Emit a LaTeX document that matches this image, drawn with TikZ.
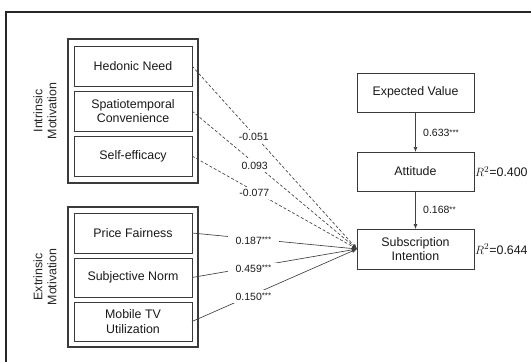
\documentclass[tikz,border=0pt]{standalone}
\usepackage{fontspec}
\setmainfont{Liberation Sans}
\usetikzlibrary{arrows.meta}
\definecolor{ln}{HTML}{404040}
\definecolor{bx}{HTML}{3A3A3A}
\newcommand{\stars}[1]{\raisebox{1.6pt}{\fontsize{8}{8}\selectfont #1}}
\tikzset{
  itembox/.style={draw=bx, line width=0.9pt, minimum width=118pt, minimum height=40pt, inner sep=1pt, outer sep=0pt, align=center, font=\fontsize{12.4}{14.5}\selectfont, text=black!90},
  groupbox/.style={draw=bx, line width=1.4pt, minimum width=130pt, inner sep=0pt, outer sep=0pt},
  grouplab/.style={rotate=90, align=center, font=\fontsize{12.4}{14}\selectfont, text=black!85},
  coef/.style={fill=white, inner xsep=5pt, inner ysep=2.5pt, font=\fontsize{10.5}{12}\selectfont, text=black!90, yshift=-2pt},
  coefr/.style={anchor=west, inner sep=0pt, font=\fontsize{10.5}{12}\selectfont, text=black!90},
  rsq/.style={anchor=west, inner sep=1pt, font=\fontsize{12.4}{14}\selectfont, text=black!90},
  path/.style={draw=ln, line width=0.65pt, -{Latex[length=5pt,width=4pt]}},
  dpath/.style={path, dash pattern=on 3pt off 2pt}
}
\begin{document}
\begin{tikzpicture}[x=1pt,y=-1pt]
\useasboundingbox (0,0) rectangle (531,362);
\fill[white] (0,0) rectangle (531,362);
% outer frame
\draw[black!85, line width=1.3pt] (6,364) -- (6,12) -- (533,12);

% groups
\node[groupbox, minimum height=144pt] (ig) at (133,111) {};
\node[groupbox, minimum height=140pt] (eg) at (133,277) {};
\node[grouplab] (igl) at (45,111) {Intrinsic\\Motivation};
\node[grouplab] (egl) at (45,277) {Extrinsic\\Motivation};

% items
\node[itembox] (hed) at (133,66) {Hedonic Need};
\node[itembox] (spa) at (133,111) {Spatiotemporal\\Convenience};
\node[itembox] (sel) at (133,156) {Self-efficacy};
\node[itembox] (pri) at (133,233) {Price Fairness};
\node[itembox, minimum height=39pt] (sub) at (133,277.5) {Subjective Norm};
\node[itembox, minimum height=39pt] (mob) at (133,321.5) {Mobile TV\\Utilization};

% right side
\node[itembox, minimum width=117pt, minimum height=39pt] (ev) at (415.5,92.5) {Expected Value};
\node[itembox, minimum width=117pt, minimum height=39pt] (att) at (415.5,171.5) {Attitude};
\node[itembox, minimum width=117pt, minimum height=40pt] (si) at (415.5,249) {Subscription\\Intention};

% connectors
\draw[path] (ev) -- (att);
\draw[path] (att) -- (si);
\node[coefr] (c1) at (423,133) {0.633\stars{***}};
\node[coefr] (c2) at (423,210) {0.168\stars{**}};
\node[rsq] (r1) at (att.east) {$R^{2}$=0.400};
\node[rsq] (r2) at (si.east) {$R^{2}$=0.644};

\draw[dpath] (hed.east) -- node[coef, pos=0.375] {-0.051} (si.west);
\draw[dpath] (spa.east) -- node[coef, pos=0.38] {0.093} (si.west);
\draw[dpath] (sel.east) -- node[coef, pos=0.378] {-0.077} (si.west);
\draw[path] (pri.east) -- node[coef, pos=0.372, inner xsep=8pt] {0.187\stars{***}} (si.west);
\draw[path] (sub.east) -- node[coef, pos=0.372, inner xsep=8pt] {0.459\stars{***}} (si.west);
\draw[path] (mob.east) -- node[coef, pos=0.372, inner xsep=8pt] {0.150\stars{***}} (si.west);
\end{tikzpicture}
\end{document}
